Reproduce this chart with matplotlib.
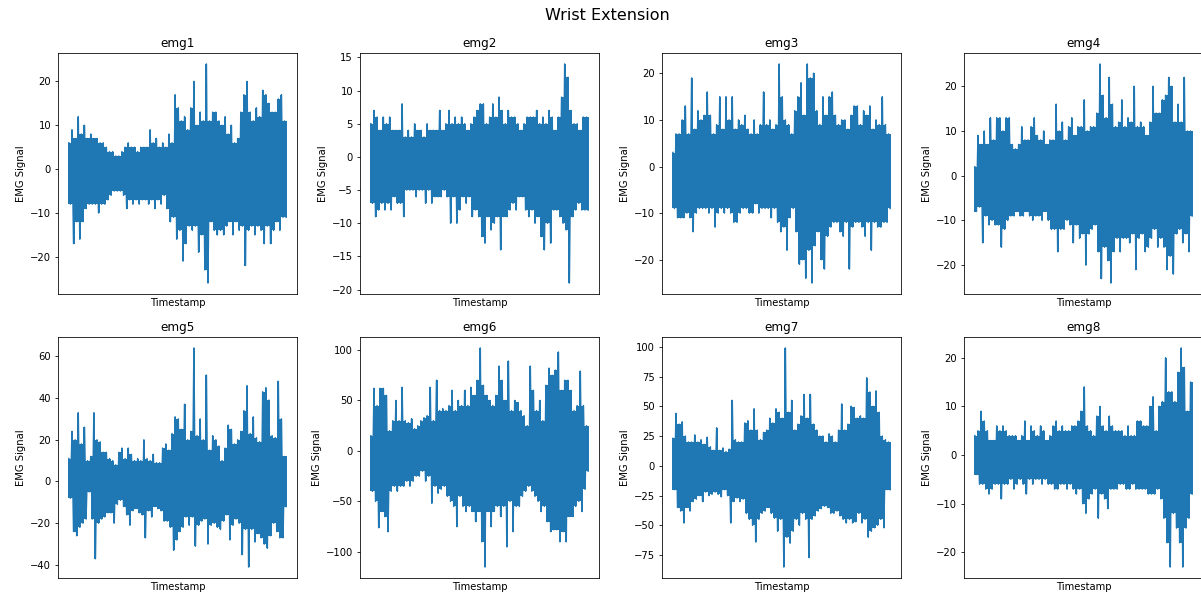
import numpy as np
import matplotlib
matplotlib.use("Agg")
import matplotlib.pyplot as plt

title = "Wrist Extension"
channels = ["emg1", "emg2", "emg3", "emg4", "emg5", "emg6", "emg7", "emg8"]
x_label = "Timestamp"
y_label = "EMG Signal"

# Upper / lower peaks of each channel, read left to right from the picture
emg1_hi = [6, 9, 7, 12, 8, 10, 7, 8, 7, 7, 6, 6, 5, 4, 4, 3, 3, 4, 5, 6, 5, 5, 4, 5, 5, 5, 9, 6, 7, 5,
           6, 5, 8, 6, 17, 14, 11, 12, 9, 14, 20, 10, 13, 11, 24, 11, 13, 13, 11, 10, 12, 8, 10, 6, 7,
           13, 17, 20, 13, 11, 14, 12, 18, 17, 15, 13, 13, 16, 17, 11]
emg1_lo = [-8, -17, -12, -16, -12, -9, -8, -8, -8, -10, -8, -8, -7, -6, -5, -5, -5, -6, -9, -7, -8, -7,
           -8, -7, -7, -8, -7, -9, -7, -8, -6, -9, -12, -11, -16, -14, -21, -17, -13, -14, -13, -19,
           -15, -23, -26, -12, -14, -15, -14, -15, -13, -12, -15, -12, -14, -13, -22, -14, -13, -15,
           -13, -14, -17, -13, -17, -14, -12, -14, -11, -11]

emg2_hi = [5, 7, 6, 4, 6, 5, 6, 4, 4, 4, 8, 3, 4, 3, 5, 4, 4, 3, 5, 4, 4, 4, 7, 4, 5, 7, 5, 6, 5, 6,
           5, 4, 5, 6, 7, 8, 8, 5, 6, 8, 6, 9, 7, 5, 7, 6, 6, 5, 4, 5, 6, 6, 6, 7, 5, 6, 5, 7, 6, 4,
           6, 9, 14, 12, 7, 5, 5, 4, 6, 6]
emg2_lo = [-7, -9, -8, -7, -8, -7, -8, -6, -7, -7, -9, -5, -5, -5, -6, -5, -5, -7, -5, -7, -6, -6, -6,
           -5, -6, -10, -6, -10, -8, -6, -7, -6, -9, -8, -9, -12, -13, -9, -11, -10, -9, -14, -9, -9,
           -8, -7, -8, -6, -6, -8, -9, -8, -10, -9, -12, -14, -10, -13, -8, -8, -9, -10, -11, -19, -9,
           -8, -7, -8, -8, -8]

emg3_hi = [3, 7, 7, 10, 13, 7, 19, 8, 12, 10, 11, 16, 11, 7, 9, 15, 8, 15, 10, 15, 8, 10, 9, 11, 8, 7,
           10, 7, 9, 16, 9, 10, 8, 9, 22, 15, 10, 9, 7, 12, 15, 18, 11, 22, 19, 20, 12, 9, 15, 11, 15,
           16, 11, 9, 10, 10, 8, 11, 13, 13, 9, 12, 11, 13, 8, 10, 9, 15, 9, 7]
emg3_lo = [-9, -11, -11, -11, -10, -11, -14, -10, -9, -9, -9, -10, -9, -13, -10, -9, -10, -9, -10, -12,
           -12, -10, -9, -9, -10, -10, -8, -10, -9, -9, -9, -11, -9, -12, -14, -13, -18, -11, -9, -14,
           -21, -20, -24, -18, -25, -17, -14, -20, -22, -15, -13, -12, -12, -14, -15, -12, -22, -13,
           -12, -12, -13, -15, -12, -18, -12, -13, -13, -12, -12, -9]

emg4_hi = [2, 9, 7, 10, 7, 13, 8, 13, 13, 10, 13, 13, 7, 6, 7, 11, 8, 8, 11, 13, 9, 8, 10, 7, 8, 8, 16,
           10, 12, 8, 11, 13, 9, 11, 11, 17, 10, 11, 11, 14, 25, 18, 13, 22, 16, 11, 12, 17, 11, 13,
           12, 20, 11, 12, 11, 9, 12, 20, 14, 14, 17, 18, 22, 20, 12, 16, 12, 22, 10, 10]
emg4_lo = [-8, -7, -15, -9, -11, -10, -11, -11, -16, -12, -10, -9, -9, -8, -9, -9, -8, -9, -10, -9, -9,
           -10, -8, -10, -12, -12, -17, -12, -12, -10, -11, -15, -11, -14, -13, -20, -13, -12, -11,
           -17, -23, -16, -19, -24, -17, -14, -17, -14, -14, -15, -13, -21, -14, -13, -17, -16, -14,
           -12, -16, -14, -16, -21, -18, -22, -13, -12, -15, -13, -17, -9]

emg5_hi = [11, 24, 20, 33, 18, 26, 10, 12, 33, 20, 19, 14, 14, 11, 10, 8, 14, 16, 11, 16, 13, 10, 11,
           10, 20, 11, 10, 13, 9, 9, 16, 18, 15, 23, 31, 30, 25, 37, 20, 24, 64, 22, 30, 20, 51, 15,
           22, 20, 17, 10, 16, 27, 25, 18, 20, 24, 34, 46, 23, 31, 21, 19, 43, 45, 39, 22, 21, 48,
           30, 12]
emg5_lo = [-8, -24, -26, -22, -20, -18, -5, -18, -37, -20, -18, -17, -15, -15, -20, -11, -9, -12, -16,
           -21, -14, -13, -15, -16, -27, -14, -17, -12, -13, -14, -19, -19, -22, -33, -28, -24, -22,
           -17, -21, -17, -31, -21, -19, -18, -30, -21, -20, -22, -23, -19, -16, -28, -21, -18, -20,
           -35, -23, -41, -23, -29, -25, -27, -30, -32, -26, -20, -24, -27, -27, -12]

emg6_hi = [15, 62, 45, 62, 62, 55, 20, 30, 50, 30, 63, 30, 28, 32, 22, 25, 30, 33, 35, 63, 30, 70, 40,
           42, 40, 45, 60, 40, 50, 45, 60, 45, 63, 55, 70, 102, 65, 55, 50, 45, 55, 84, 70, 50, 89,
           40, 50, 48, 40, 35, 25, 84, 60, 40, 50, 30, 65, 82, 75, 80, 98, 60, 70, 70, 60, 40, 45,
           79, 45, 25]
emg6_lo = [-40, -50, -76, -60, -65, -80, -40, -35, -40, -35, -35, -30, -35, -30, -25, -25, -20, -30,
           -25, -52, -35, -42, -38, -35, -45, -50, -55, -75, -45, -55, -60, -55, -60, -70, -60, -90,
           -115, -60, -75, -60, -55, -65, -55, -95, -50, -80, -55, -55, -45, -40, -35, -40, -45, -50,
           -60, -55, -70, -80, -78, -78, -90, -80, -90, -65, -65, -55, -50, -60, -38, -20]

emg7_hi = [23, 44, 35, 37, 25, 20, 20, 26, 20, 22, 18, 24, 16, 13, 32, 13, 15, 12, 14, 55, 22, 20, 20,
           36, 38, 30, 48, 30, 22, 28, 30, 40, 36, 48, 45, 40, 99, 45, 55, 30, 35, 42, 60, 40, 60, 35,
           30, 25, 25, 20, 27, 25, 20, 30, 52, 30, 35, 50, 49, 40, 42, 40, 74, 62, 50, 63, 45, 25,
           22, 20]
emg7_lo = [-20, -35, -38, -48, -35, -38, -30, -28, -25, -30, -22, -25, -24, -22, -24, -26, -20, -25,
           -48, -30, -27, -30, -28, -40, -45, -50, -64, -45, -40, -38, -35, -40, -44, -55, -45, -85,
           -60, -65, -55, -45, -50, -40, -45, -77, -45, -42, -38, -36, -34, -35, -40, -40, -38, -42,
           -45, -48, -45, -48, -47, -40, -48, -45, -60, -55, -52, -50, -45, -52, -20, -20]

emg8_hi = [4, 5, 9, 7, 5, 3, 3, 6, 5, 6, 5, 4, 4, 4, 3, 4, 7, 3, 6, 5, 4, 6, 5, 3, 4, 6, 7, 5, 6, 5, 5,
           6, 6, 7, 9, 14, 6, 5, 4, 8, 10, 6, 5, 8, 6, 5, 5, 5, 4, 6, 4, 4, 7, 7, 6, 6, 10, 12, 5, 10,
           11, 20, 13, 13, 11, 17, 22, 18, 9, 15]
emg8_lo = [-4, -6, -6, -7, -8, -7, -6, -6, -9, -6, -6, -5, -7, -6, -5, -6, -8, -5, -6, -5, -5, -6, -5,
           -6, -6, -7, -7, -6, -6, -7, -6, -7, -8, -7, -10, -12, -9, -8, -7, -13, -8, -9, -11, -7, -7,
           -7, -6, -6, -7, -7, -6, -7, -7, -7, -7, -8, -8, -8, -7, -9, -13, -18, -23, -12, -15, -18,
           -23, -15, -13, -8]

highs = [emg1_hi, emg2_hi, emg3_hi, emg4_hi, emg5_hi, emg6_hi, emg7_hi, emg8_hi]
lows = [emg1_lo, emg2_lo, emg3_lo, emg4_lo, emg5_lo, emg6_lo, emg7_lo, emg8_lo]

W, H = 1201, 597
fig = plt.figure(figsize=(W / 72, H / 72), dpi=72)

ax_w, ax_h = 239, 241
lefts = [58 + 302 * c for c in range(4)]
tops = [53, 337]
blue = "#1f77b4"

for k, name in enumerate(channels):
    r, c = divmod(k, 4)
    ax = fig.add_axes([lefts[c] / W, 1 - (tops[r] + ax_h) / H, ax_w / W, ax_h / H])
    hi = np.asarray(highs[k], dtype=float)
    lo = np.asarray(lows[k], dtype=float)
    sig = np.empty(hi.size + lo.size)
    sig[0::2] = hi
    sig[1::2] = lo
    t = np.arange(sig.size)
    # inner bounds so that only the trace itself reaches each peak
    lo_prev = np.concatenate([lo[:1], lo[:-1]])
    hi_next = np.concatenate([hi[1:], hi[-1:]])
    ax.vlines(t[0::2], np.maximum(lo, lo_prev), hi, color=blue, linewidth=2.0)
    ax.vlines(t[1::2], lo, np.minimum(hi, hi_next), color=blue, linewidth=2.0)
    ax.plot(t, sig, color=blue, linewidth=1.5)
    ax.set_title(name, fontsize=12)
    ax.set_xlabel(x_label, fontsize=10)
    ax.set_ylabel(y_label, fontsize=10)
    ax.set_xticks([])
    ax.tick_params(axis="y", labelsize=10)

fig.text(607 / W, 1 - 16 / H, title, ha="center", va="center", fontsize=16)

fig.savefig("out.png", dpi=72)
